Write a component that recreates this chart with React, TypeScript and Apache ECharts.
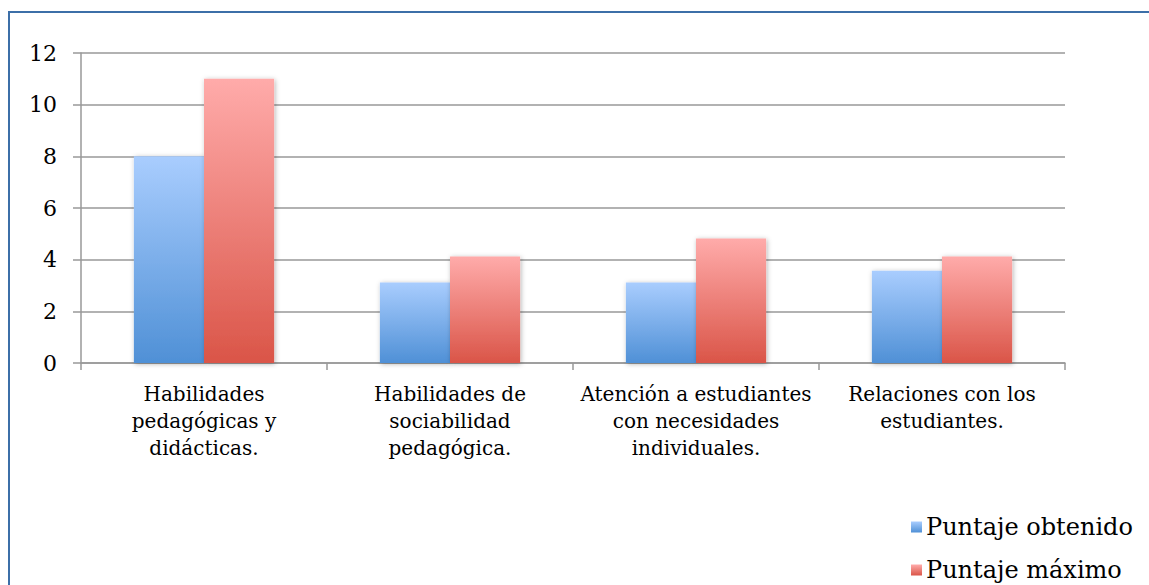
import React, { useEffect, useRef } from "react";
import * as echarts from "echarts";

const categories = [
  "Habilidades\npedagógicas y\ndidácticas.",
  "Habilidades de\nsociabilidad\npedagógica.",
  "Atención a estudiantes\ncon necesidades\nindividuales.",
  "Relaciones con los\nestudiantes.",
];
const obtenido = [8, 3.12, 3.12, 3.57];
const maximo = [11, 4.12, 4.82, 4.12];
const seriesNames = ["Puntaje obtenido", "Puntaje máximo"];

const FONT = "DejaVu Serif";

const blueGrad = new echarts.graphic.LinearGradient(0, 0, 0, 1, [
  { offset: 0, color: "#a9cdfe" },
  { offset: 1, color: "#4f90d6" },
]);
const redGrad = new echarts.graphic.LinearGradient(0, 0, 0, 1, [
  { offset: 0, color: "#ffabaa" },
  { offset: 1, color: "#da5548" },
]);

export default function App() {
  const ref = useRef<HTMLDivElement>(null);
  useEffect(() => {
    const chart = echarts.init(ref.current!, undefined, { renderer: "svg" });
    const barStyle = (c: any) => ({
      color: c,
      shadowBlur: 5,
      shadowColor: "rgba(0,0,0,0.3)",
      shadowOffsetX: 1,
      shadowOffsetY: 1,
    });
    const legendBase = {
      orient: "horizontal",
      left: 911,
      padding: 0,
      itemWidth: 11,
      itemHeight: 11,
      icon: "rect",
      textStyle: {
        fontFamily: FONT,
        fontSize: 24,
        lineHeight: 26,
        color: "#000",
        padding: [0, 0, 0, -1],
      },
    };
    chart.setOption({
      animation: false,
      backgroundColor: "#ffffff",
      textStyle: { fontFamily: FONT },
      graphic: [
        {
          type: "rect",
          shape: { x: 9, y: 12, width: 1300, height: 800 },
          style: { fill: "none", stroke: "#3c6fa8", lineWidth: 2 },
          silent: true,
          z: -1,
        },
      ],
      grid: { left: 81, right: 84, top: 53, bottom: 222 },
      legend: [
        { ...legendBase, top: 514, data: [seriesNames[0]] },
        { ...legendBase, top: 557, data: [seriesNames[1]] },
      ],
      xAxis: {
        type: "category",
        data: categories,
        axisLine: { show: true, lineStyle: { color: "#999", width: 1.5 } },
        axisTick: { show: true, length: 7, lineStyle: { color: "#999", width: 1.5 } },
        axisLabel: {
          fontFamily: FONT,
          fontSize: 20,
          color: "#000",
          lineHeight: 27,
          margin: 17,
          interval: 0,
          align: "center",
        },
      },
      yAxis: {
        type: "value",
        min: 0,
        max: 12,
        interval: 2,
        axisLine: { show: true, lineStyle: { color: "#999", width: 1.5 } },
        axisTick: { show: true, length: 8, lineStyle: { color: "#999", width: 1.5 } },
        splitLine: { show: true, lineStyle: { color: "#999", width: 1.5 } },
        axisLabel: { fontFamily: FONT, fontSize: 22, color: "#000", margin: 24 },
      },
      series: [
        {
          name: seriesNames[0],
          type: "bar",
          data: obtenido,
          barGap: "0%",
          barCategoryGap: "43%",
          itemStyle: barStyle(blueGrad),
        },
        {
          name: seriesNames[1],
          type: "bar",
          data: maximo,
          itemStyle: barStyle(redGrad),
        },
      ],
    });
    return () => chart.dispose();
  }, []);
  return (
    <div
      ref={ref}
      style={{ position: "fixed", left: 0, top: 0, width: 1149, height: 585 }}
    />
  );
}
